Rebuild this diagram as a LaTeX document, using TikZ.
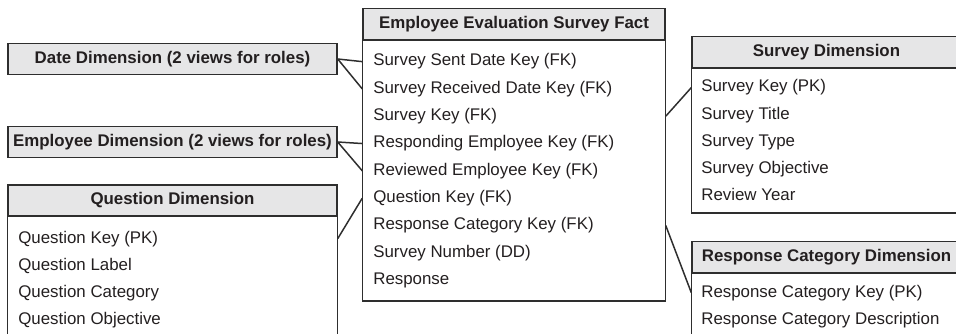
\documentclass[tikz,border=0pt]{standalone}
\usepackage{fontspec}
\setmainfont{Liberation Sans}
\usepackage{tikz}
\usetikzlibrary{positioning}

\definecolor{hdrgray}{HTML}{E6E6E7}
\definecolor{linegray}{HTML}{2E2E2E}
\definecolor{inkgray}{HTML}{231F20}

\begin{document}
\begin{tikzpicture}[x=0.02cm,y=-0.02cm,
  every node/.style={text=inkgray},
  hdr/.style={draw=linegray,fill=hdrgray,line width=0.85pt,inner sep=0pt,minimum height=0.62cm,
    font=\fontsize{9.6}{11}\selectfont\bfseries},
  row/.style={anchor=base west,inner sep=0pt,font=\fontsize{9.6}{11}\selectfont},
  frame/.style={draw=linegray,line width=0.85pt},
  link/.style={draw=linegray,line width=0.85pt}]
  \useasboundingbox (0,0) rectangle (956,334);

  \node[hdr,minimum width=6.04cm] (facthead) at (514,24) {Employee Evaluation Survey Fact};
  \draw[frame] (facthead.south west) rectangle (facthead.east |- 0,301);
  \foreach \t [count=\i] in {Survey Sent Date Key (FK),Survey Received Date Key (FK),Survey Key (FK),
    Responding Employee Key (FK),Reviewed Employee Key (FK),Question Key (FK),
    Response Category Key (FK),Survey Number (DD),Response}
    \node[row] (fact\i) at (373,{66+27.3*(\i-1)}) {\t};

  \node[hdr,minimum width=6.58cm] (datedim) at (172.5,59) {Date Dimension (2 views for roles)};
  \node[hdr,minimum width=6.58cm] (empdim) at (172.5,142) {Employee Dimension (2 views for roles)};

  \node[hdr,minimum width=6.58cm] (qhead) at (172.5,200.5) {Question Dimension};
  \draw[frame] (qhead.south west) rectangle (qhead.east |- 0,345);
  \foreach \t [count=\i] in {Question Key (PK),Question Label,Question Category,Question Objective}
    \node[row] (q\i) at (18,{243+27*(\i-1)}) {\t};

  \node[hdr,minimum width=5.38cm] (shead) at (826.5,52) {Survey Dimension};
  \draw[frame] (shead.south west) rectangle (shead.east |- 0,213);
  \foreach \t [count=\i] in {Survey Key (PK),Survey Title,Survey Type,Survey Objective,Review Year}
    \node[row] (s\i) at (701,{92+27.2*(\i-1)}) {\t};

  \node[hdr,minimum width=5.38cm] (rhead) at (826.5,257) {Response Category Dimension};
  \draw[frame] (rhead.south west) rectangle (rhead.east |- 0,345);
  \foreach \t [count=\i] in {Response Category Key (PK),Response Category Description}
    \node[row] (r\i) at (701,{297+27*(\i-1)}) {\t};

  \draw[link] (datedim.east) -- (facthead.west |- fact1);
  \draw[link] (datedim.east) -- (facthead.west |- fact2);
  \draw[link] (empdim.east) -- (facthead.west |- fact4);
  \draw[link] (empdim.east) -- (facthead.west |- fact5);
  \draw[link] (qhead.east |- q1) -- (facthead.west |- fact6);
  \draw[link] (facthead.east |- fact3) -- (shead.west |- s1);
  \draw[link] (facthead.east |- fact7) -- (rhead.west |- r1);
\end{tikzpicture}
\end{document}
